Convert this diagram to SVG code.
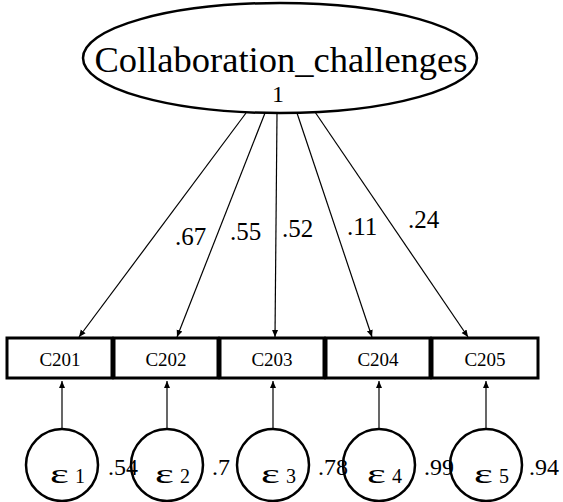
<svg xmlns="http://www.w3.org/2000/svg" width="563" height="502" viewBox="0 0 563 502" font-family="'Liberation Serif', 'Times New Roman', serif">
<style>
text{font-family:'Liberation Serif','Times New Roman',serif;fill:#000}
.lat{fill:#fff;stroke:#000;stroke-width:2.5}
.box{fill:#fff;stroke:#000;stroke-width:3}
.err{fill:#fff;stroke:#000;stroke-width:2.5}
.edge{stroke:#000;stroke-width:1.2;fill:none;marker-end:url(#ah)}
.lbl{font-size:25px}
.var{font-size:24px}
.bl{font-size:19px;text-anchor:middle}
.eps{font-size:28px}
.idx{font-size:20px}
</style>
<defs>
<marker id="ah" markerUnits="userSpaceOnUse" markerWidth="8" markerHeight="8" viewBox="0 0 8 8" refX="7" refY="4" orient="auto">
<path d="M0,1 L7,4 L0,7 z" fill="#000"/>
</marker>
</defs>
<rect width="563" height="502" fill="#fff"/>
<g id="connectors">
<line class="edge" x1="246" y1="113" x2="79" y2="337"/>
<line class="edge" x1="265" y1="113" x2="177" y2="337"/>
<line class="edge" x1="277" y1="114" x2="275" y2="337"/>
<line class="edge" x1="297" y1="113" x2="372" y2="337"/>
<line class="edge" x1="315" y1="112" x2="468" y2="337"/>
<line class="edge" x1="62" y1="429" x2="62" y2="381"/>
<line class="edge" x1="167" y1="429" x2="167" y2="381"/>
<line class="edge" x1="273" y1="429" x2="273" y2="381"/>
<line class="edge" x1="379" y1="429" x2="379" y2="381"/>
<line class="edge" x1="486" y1="429" x2="486" y2="381"/>
</g>
<g id="Collaboration_challenges">
<ellipse class="lat" cx="280" cy="58" rx="197" ry="55"/>
<text x="281" y="72" font-size="36.5" text-anchor="middle">Collaboration_challenges</text>
<text x="278" y="102" font-size="24" text-anchor="middle">1</text>
</g>
<g id="loadings">
<text class="lbl" x="175" y="245">.67</text>
<text class="lbl" x="230" y="240">.55</text>
<text class="lbl" x="282" y="237">.52</text>
<text class="lbl" x="347" y="235">.11</text>
<text class="lbl" x="408" y="228">.24</text>
</g>
<g id="C201"><rect class="box" x="7" y="338" width="105" height="40"/><text class="bl" x="60" y="366">C201</text></g>
<g id="C202"><rect class="box" x="114" y="338" width="104" height="40"/><text class="bl" x="166" y="366">C202</text></g>
<g id="C203"><rect class="box" x="220" y="338" width="104" height="40"/><text class="bl" x="272" y="366">C203</text></g>
<g id="C204"><rect class="box" x="326" y="338" width="104" height="40"/><text class="bl" x="378" y="366">C204</text></g>
<g id="C205"><rect class="box" x="432" y="338" width="106" height="40"/><text class="bl" x="485" y="366">C205</text></g>
<g id="e1"><circle class="err" cx="62" cy="465" r="36"/><text class="eps" transform="translate(50,483) scale(1.6,1)">ε</text><text class="idx" x="75" y="483">1</text></g>
<g id="e2"><circle class="err" cx="167" cy="465" r="36"/><text class="eps" transform="translate(155,483) scale(1.6,1)">ε</text><text class="idx" x="180" y="483">2</text></g>
<g id="e3"><circle class="err" cx="273" cy="465" r="36"/><text class="eps" transform="translate(261,483) scale(1.6,1)">ε</text><text class="idx" x="286" y="483">3</text></g>
<g id="e4"><circle class="err" cx="379" cy="465" r="36"/><text class="eps" transform="translate(367,483) scale(1.6,1)">ε</text><text class="idx" x="392" y="483">4</text></g>
<g id="e5"><circle class="err" cx="486" cy="465" r="36"/><text class="eps" transform="translate(474,483) scale(1.6,1)">ε</text><text class="idx" x="499" y="483">5</text></g>
<g id="variances">
<text class="var" x="108" y="475">.54</text>
<text class="var" x="212" y="475">.7</text>
<text class="var" x="318" y="475">.78</text>
<text class="var" x="424" y="475">.99</text>
<text class="var" x="529" y="475">.94</text>
</g>
</svg>
